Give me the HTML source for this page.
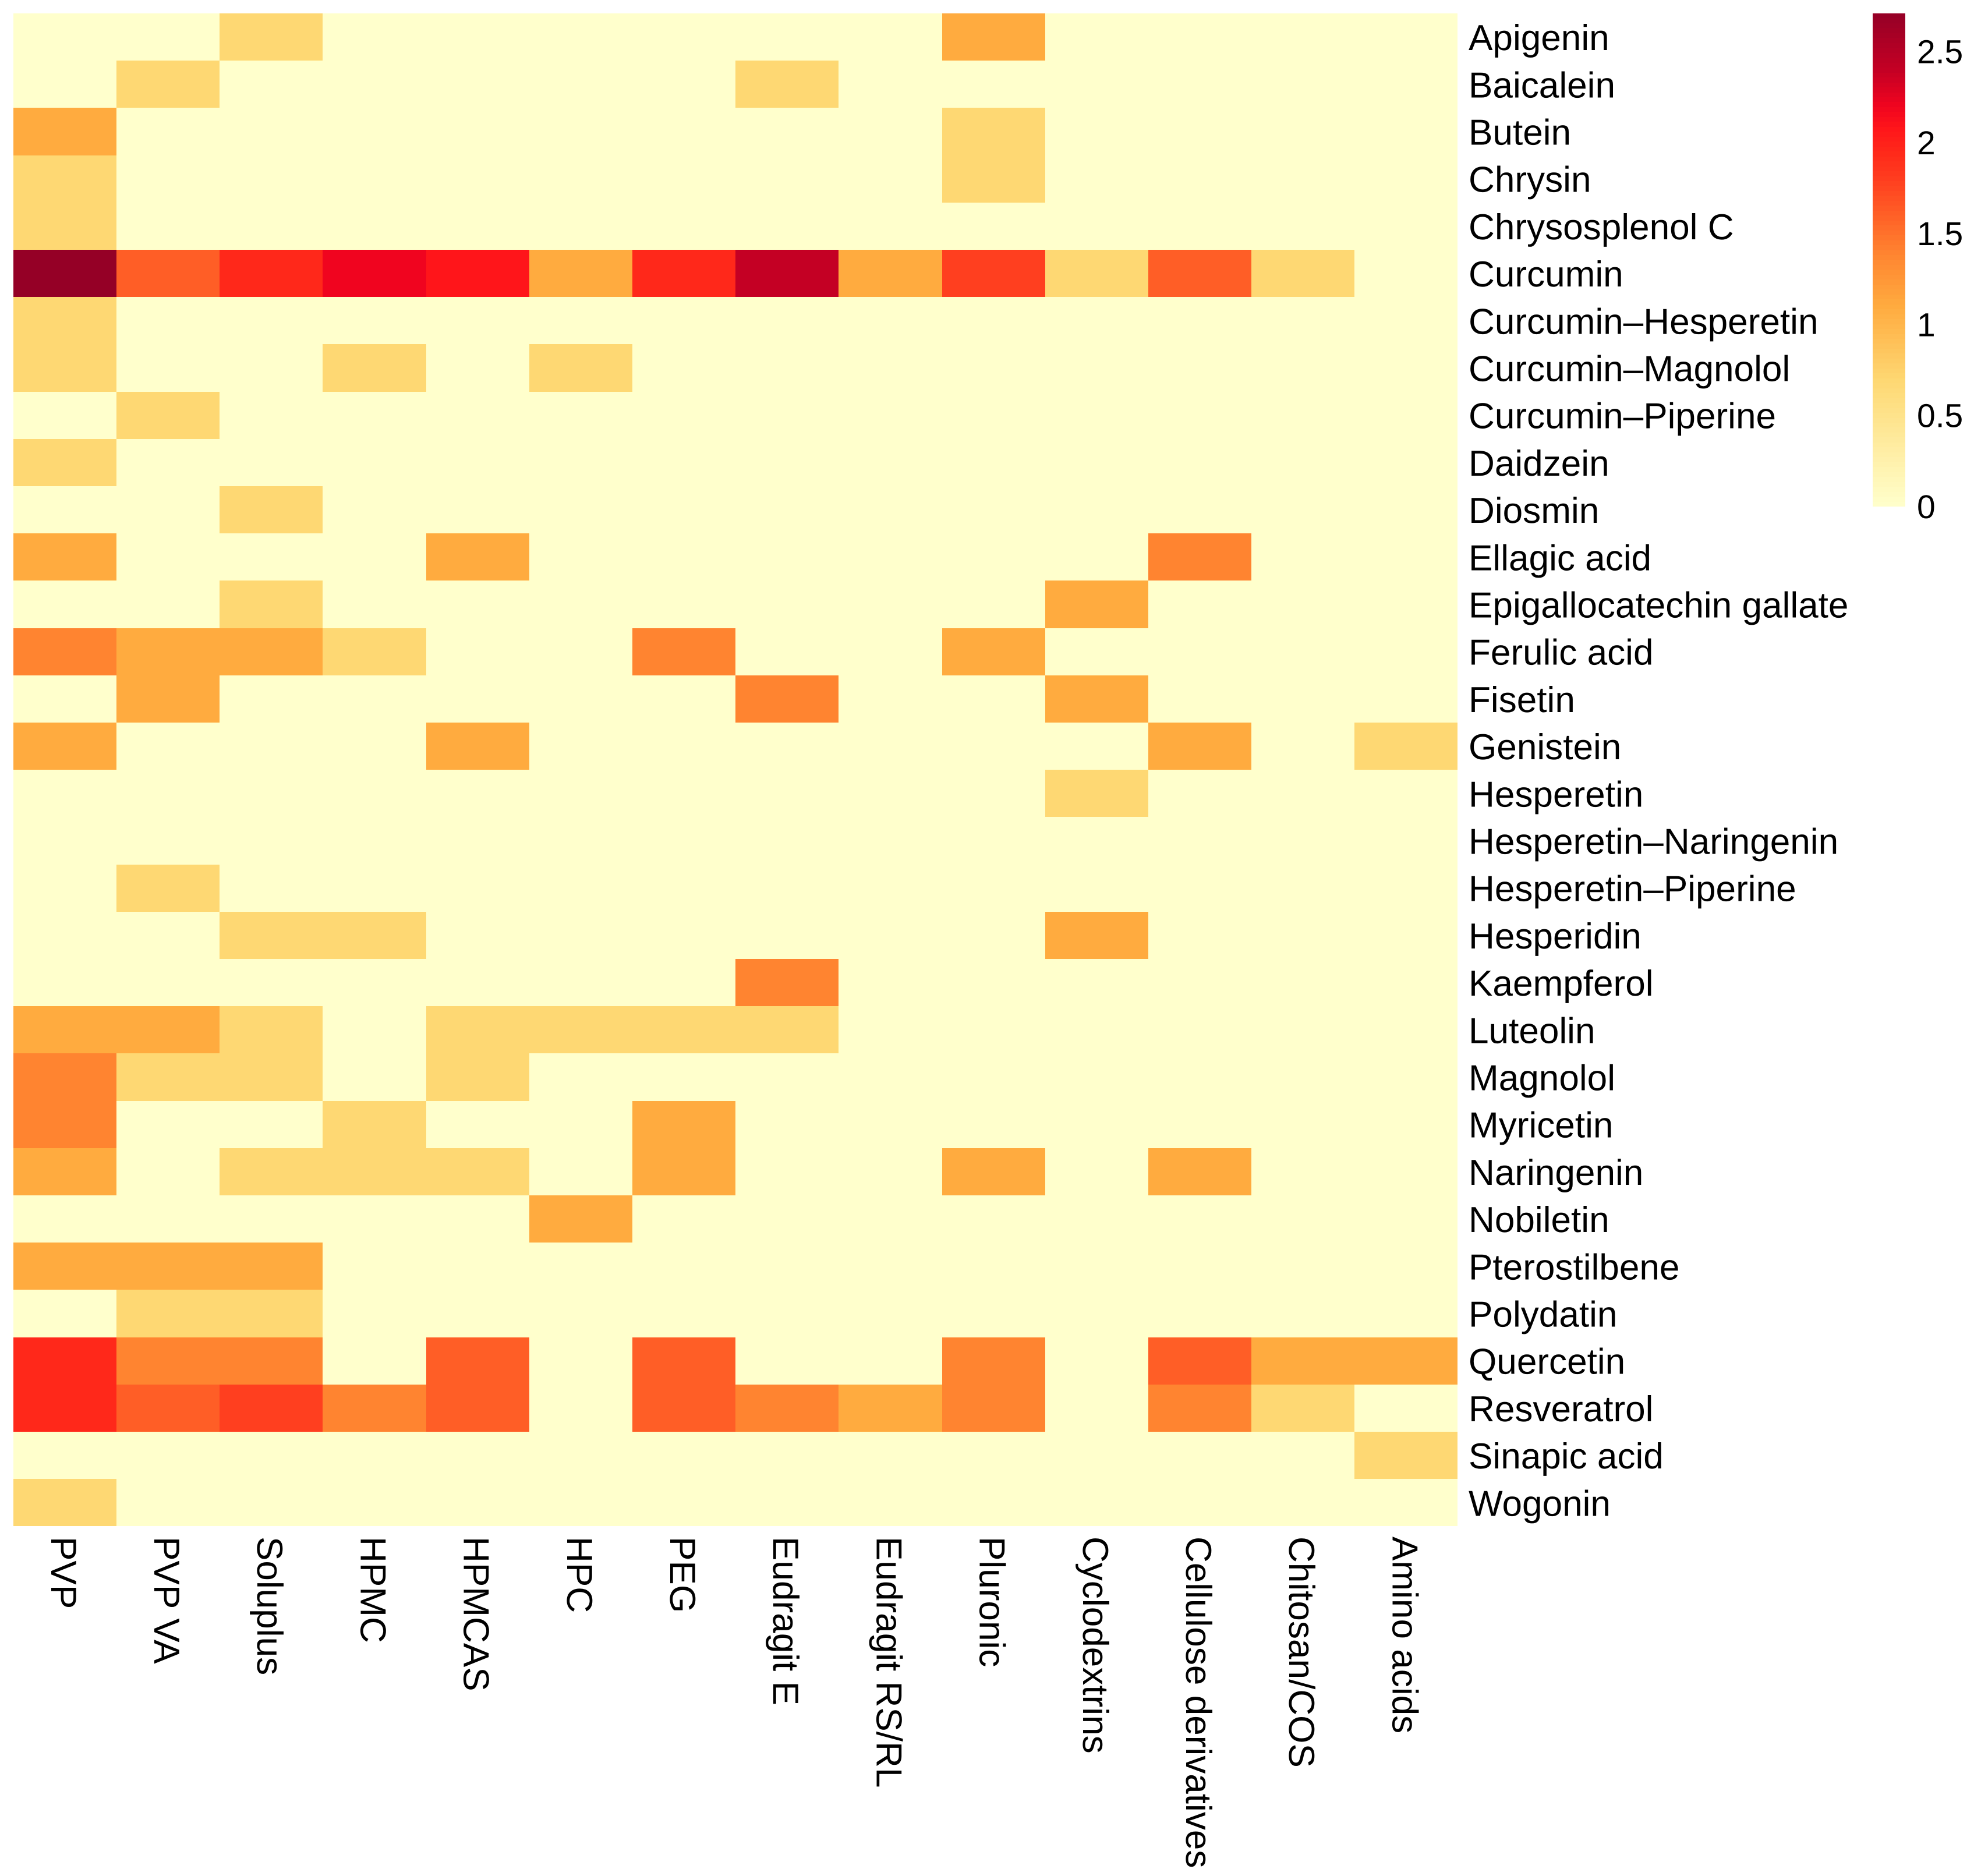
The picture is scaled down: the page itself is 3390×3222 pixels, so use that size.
<!DOCTYPE html>
<html lang="en">
<head>
<meta charset="utf-8">
<title>Heatmap of compounds by carrier</title>
<style>
html,body{margin:0;padding:0;background:#fff;width:3390px;height:3222px;overflow:hidden}
svg{display:block}
text{font-family:"Liberation Sans",Arial,sans-serif;fill:#000;text-rendering:geometricPrecision}
</style>
</head>
<body>
<svg id="chart" xmlns="http://www.w3.org/2000/svg" width="3390" height="3222" viewBox="0 0 3390 3222">
<rect x="0" y="0" width="3390" height="3222" fill="#ffffff"/>
</svg>
<script>
const columnLabels = ["PVP","PVP VA","Soluplus","HPMC","HPMCAS","HPC","PEG","Eudragit E","Eudragit RS/RL","Pluronic","Cyclodextrins","Cellulose derivatives","Chitosan/COS","Amino acids"];
const rowLabels = ["Apigenin","Baicalein","Butein","Chrysin","Chrysosplenol C","Curcumin","Curcumin–Hesperetin","Curcumin–Magnolol","Curcumin–Piperine","Daidzein","Diosmin","Ellagic acid","Epigallocatechin gallate","Ferulic acid","Fisetin","Genistein","Hesperetin","Hesperetin–Naringenin","Hesperetin–Piperine","Hesperidin","Kaempferol","Luteolin","Magnolol","Myricetin","Naringenin","Nobiletin","Pterostilbene","Polydatin","Quercetin","Resveratrol","Sinapic acid","Wogonin"];
const values = [
[0,0,.69,0,0,0,0,0,0,1.1,0,0,0,0],
[0,.69,0,0,0,0,0,.69,0,0,0,0,0,0],
[1.1,0,0,0,0,0,0,0,0,.69,0,0,0,0],
[.69,0,0,0,0,0,0,0,0,.69,0,0,0,0],
[.69,0,0,0,0,0,0,0,0,0,0,0,0,0],
[2.71,1.61,1.95,2.2,2.08,1.1,1.95,2.4,1.1,1.79,.69,1.61,.69,0],
[.69,0,0,0,0,0,0,0,0,0,0,0,0,0],
[.69,0,0,.69,0,.69,0,0,0,0,0,0,0,0],
[0,.69,0,0,0,0,0,0,0,0,0,0,0,0],
[.69,0,0,0,0,0,0,0,0,0,0,0,0,0],
[0,0,.69,0,0,0,0,0,0,0,0,0,0,0],
[1.1,0,0,0,1.1,0,0,0,0,0,0,1.39,0,0],
[0,0,.69,0,0,0,0,0,0,0,1.1,0,0,0],
[1.39,1.1,1.1,.69,0,0,1.39,0,0,1.1,0,0,0,0],
[0,1.1,0,0,0,0,0,1.39,0,0,1.1,0,0,0],
[1.1,0,0,0,1.1,0,0,0,0,0,0,1.1,0,.69],
[0,0,0,0,0,0,0,0,0,0,.69,0,0,0],
[0,0,0,0,0,0,0,0,0,0,0,0,0,0],
[0,.69,0,0,0,0,0,0,0,0,0,0,0,0],
[0,0,.69,.69,0,0,0,0,0,0,1.1,0,0,0],
[0,0,0,0,0,0,0,1.39,0,0,0,0,0,0],
[1.1,1.1,.69,0,.69,.69,.69,.69,0,0,0,0,0,0],
[1.39,.69,.69,0,.69,0,0,0,0,0,0,0,0,0],
[1.39,0,0,.69,0,0,1.1,0,0,0,0,0,0,0],
[1.1,0,.69,.69,.69,0,1.1,0,0,1.1,0,1.1,0,0],
[0,0,0,0,0,1.1,0,0,0,0,0,0,0,0],
[1.1,1.1,1.1,0,0,0,0,0,0,0,0,0,0,0],
[0,.69,.69,0,0,0,0,0,0,0,0,0,0,0],
[1.95,1.39,1.39,0,1.61,0,1.61,0,0,1.39,0,1.61,1.1,1.1],
[1.95,1.61,1.79,1.39,1.61,0,1.61,1.39,1.1,1.39,0,1.39,.69,0],
[0,0,0,0,0,0,0,0,0,0,0,0,0,.69],
[.69,0,0,0,0,0,0,0,0,0,0,0,0,0]
];
const legendTicks = [0,0.5,1,1.5,2,2.5];
const legendMax = 2.71;

const svg = document.getElementById('chart');
const NS = 'http://www.w3.org/2000/svg';
const plot = {left:22.7, top:23, colW:177.2, rowH:81.2};
const bar = {left:3216, right:3272, top:23, bottom:870};
const FONT = 62.1;

const rampStops = [
  [0,[255,255,204]],[.69,[254,216,115]],[1.1,[255,171,63]],[1.39,[255,132,48]],
  [1.61,[255,94,38]],[1.79,[255,63,31]],[1.95,[255,40,26]],[2.08,[255,21,26]],
  [2.2,[240,4,31]],[2.4,[196,0,36]],[2.71,[149,0,38]]
];
function colorFor(v){
  let i = 0;
  while(i < rampStops.length-2 && v > rampStops[i+1][0]) i++;
  const a = rampStops[i], b = rampStops[i+1];
  const t = Math.max(0, Math.min(1, (v-a[0])/(b[0]-a[0])));
  const c = a[1].map((x,k)=>Math.round(x+(b[1][k]-x)*t));
  return 'rgb('+c.join(',')+')';
}
function xScale(c){ return plot.left + c*plot.colW; }
function yScale(r){ return plot.top + r*plot.rowH; }
function legendY(v){ return bar.bottom - (v/legendMax)*(bar.bottom-bar.top); }

function slug(s){ return s.toLowerCase().replace(/[^a-z0-9]+/g,'-').replace(/^-|-$/g,''); }

const cellGroup = document.createElementNS(NS,'g');


cellGroup.setAttribute('shape-rendering', 'crispEdges');
svg.appendChild(cellGroup);

values.forEach((row,r)=>{
  row.forEach((v,c)=>{
    const x0 = Math.round(xScale(c)), x1 = Math.round(xScale(c+1));
    const y0 = Math.round(yScale(r)), y1 = Math.round(yScale(r+1));
    const cell = document.createElementNS(NS,'rect');
    cell.setAttribute('x', x0);
    cell.setAttribute('y', y0);
    cell.setAttribute('width', x1-x0);
    cell.setAttribute('height', y1-y0);
    cell.setAttribute('fill', colorFor(v));
    
    
    cellGroup.appendChild(cell);
  });
});

rowLabels.forEach((label,r)=>{
  const t = document.createElementNS(NS,'text');
  t.setAttribute('x', 2522);
  t.setAttribute('y', yScale(r)+plot.rowH/2+22.5);
  t.setAttribute('font-size', FONT);
  t.textContent = label;
  
  
  svg.appendChild(t);
});

columnLabels.forEach((label,c)=>{
  const bx = xScale(c)+plot.colW/2-23.5, by = 2639;
  const t = document.createElementNS(NS,'text');
  t.setAttribute('transform', 'translate('+bx+','+by+') rotate(90)');
  t.setAttribute('font-size', FONT);
  t.textContent = label;
  
  
  svg.appendChild(t);
});

const legendGroup = document.createElementNS(NS,'g');


legendGroup.setAttribute('shape-rendering', 'crispEdges');
svg.appendChild(legendGroup);

const legendSteps = 100;
for(let i=0;i<legendSteps;i++){
  const lo = legendMax*i/legendSteps, hi = legendMax*(i+1)/legendSteps;
  const y1 = Math.round(legendY(lo)), y0 = Math.round(legendY(hi));
  const s = document.createElementNS(NS,'rect');
  s.setAttribute('x', bar.left);
  s.setAttribute('y', y0);
  s.setAttribute('width', bar.right-bar.left);
  s.setAttribute('height', y1-y0);
  s.setAttribute('fill', colorFor((lo+hi)/2));
  
  
  legendGroup.appendChild(s);
}

legendTicks.forEach(v=>{
  const t = document.createElementNS(NS,'text');
  t.setAttribute('x', 3292);
  t.setAttribute('y', legendY(v)+20);
  t.setAttribute('font-size', 57);
  t.textContent = String(v);
  
  
  svg.appendChild(t);
});
</script>
</body>
</html>
